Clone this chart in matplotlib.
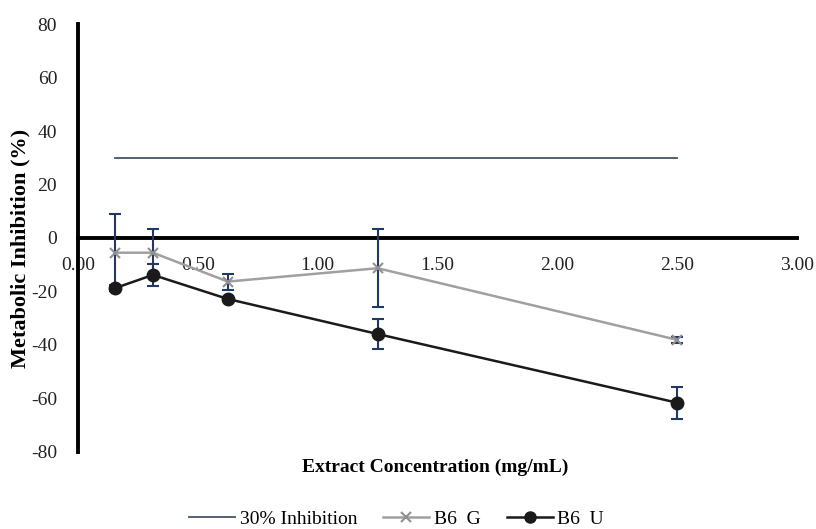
import matplotlib
matplotlib.use("Agg")
import matplotlib.pyplot as plt
from matplotlib.lines import Line2D

conc = [0.156, 0.3125, 0.625, 1.25, 2.5]
b6_g = [-5.5, -5.5, -16.3, -11.3, -38.1]
b6_g_err = [14.3, 8.9, 3.0, 14.6, 1.0]
b6_u = [-18.7, -13.8, -22.8, -35.9, -61.6]
b6_u_err = [1.0, 4.2, 0.8, 5.5, 6.0]
inhib_x = [0.156, 2.5]
inhib_y = [30, 30]
xticks = [0.0, 0.5, 1.0, 1.5, 2.0, 2.5, 3.0]
yticks = [-80, -60, -40, -20, 0, 20, 40, 60, 80]

plt.rcParams['font.family'] = ['Liberation Serif', 'DejaVu Serif']

fig = plt.figure(figsize=(8.16, 5.29), dpi=100)
ax = fig.add_axes([0.0956, 0.1456, 0.8814, 0.809])

navy = '#1F3864'
ax.plot(inhib_x, inhib_y, color='#44546A', lw=1.3, zorder=2)
ax.errorbar(conc, b6_g, yerr=b6_g_err, fmt='none', ecolor=navy, elinewidth=1.5,
            capsize=4, capthick=1.5, zorder=3)
ax.errorbar(conc, b6_u, yerr=b6_u_err, fmt='none', ecolor=navy, elinewidth=1.5,
            capsize=4, capthick=1.5, zorder=3)
ax.plot(conc, b6_g, color='#A0A0A0', lw=1.8, marker='x', ms=7, mew=1.5,
        mec='#909090', zorder=4)
ax.plot(conc, b6_u, color='#1a1a1a', lw=1.8, marker='o', ms=9, zorder=5)

ax.set_xlim(0, 3.0)
ax.set_ylim(-80, 80)
ax.spines['left'].set_position(('data', 0))
ax.spines['bottom'].set_position(('data', 0))
ax.spines['left'].set_linewidth(2.8)
ax.spines['bottom'].set_linewidth(2.8)
ax.spines['right'].set_visible(False)
ax.spines['top'].set_visible(False)
ax.set_xticks(xticks)
ax.set_xticklabels([f"{v:.2f}" for v in xticks])
ax.set_yticks(yticks)
ax.set_yticklabels([str(v) for v in yticks])
ax.tick_params(axis='both', length=0, labelsize=14, colors='#222222')
ax.tick_params(axis='x', pad=14)
ax.tick_params(axis='y', pad=15)

fig.text(0.025, 0.531, 'Metabolic Inhibition (%)', rotation=90, ha='center',
         va='center', fontsize=16, fontweight='bold')
fig.text(0.533, 0.117, 'Extract Concentration (mg/mL)', ha='center', va='center',
         fontsize=14, fontweight='bold')

handles = [
    Line2D([], [], color='#44546A', lw=1.3),
    Line2D([], [], color='#A0A0A0', lw=1.8, marker='x', ms=7, mew=1.5, mec='#909090'),
    Line2D([], [], color='#1a1a1a', lw=1.8, marker='o', ms=8),
]
fig.legend(handles, ['30% Inhibition', 'B6  G', 'B6  U'], loc='center',
           bbox_to_anchor=(0.486, 0.018), ncol=3, frameon=False, fontsize=14,
           handlelength=2.35, columnspacing=1.35, handletextpad=0.25)

fig.savefig('out.png', dpi=100)
